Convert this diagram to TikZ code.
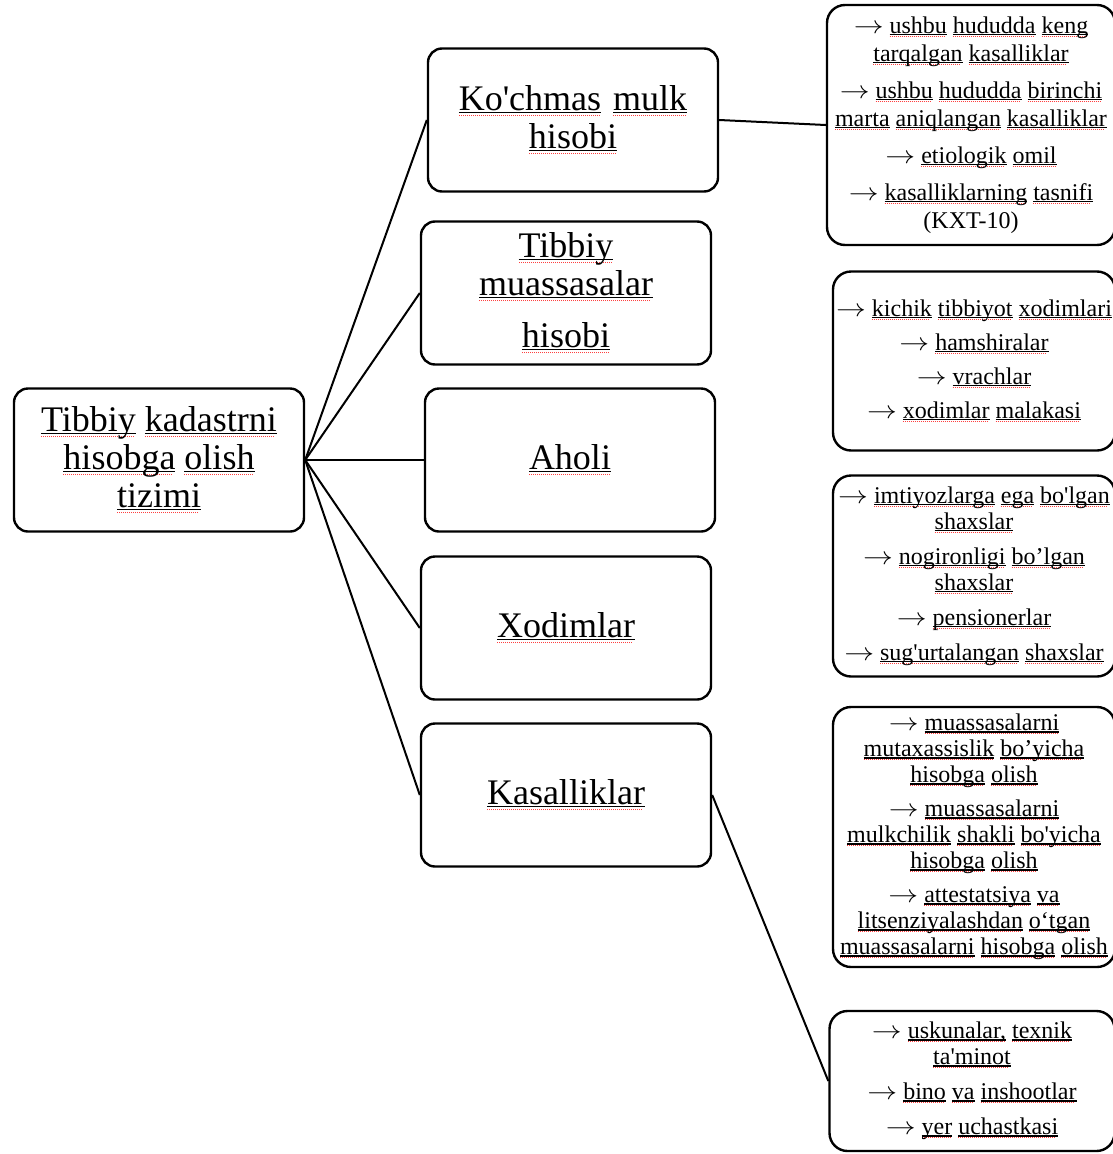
\documentclass[tikz,border=0pt]{standalone}
\usepackage{fontspec}
\setmainfont{Liberation Serif}
\usepackage{xcolor}
\colorlet{colorSpell}{red!75}
\usepackage{tikz}
\usetikzlibrary{positioning}
\newcommand{\bigtext}{\fontsize{36pt}{38pt}\selectfont}
\newcommand{\listtext}{\fontsize{24pt}{26pt}\selectfont}
\newcommand{\spellline}[1]{\setbox0\hbox{#1}\rlap{\rule[-0.075em]{\wd0}{0.045em}}\rlap{\color{colorSpell}\leaders\hbox to 2pt{\rule[-0.15em]{1pt}{0.04em}\hss}\hskip\wd0}\box0}
\newcommand{\itm}{\scalebox{1.2}[1]{\(\rightarrow\)}}
\def\uw#1{\uwnext#1 \uwstop}
\def\uwnext#1 #2\uwstop{\spellline{#1}\if\relax\detokenize{#2}\relax\else\ \uwnext#2\uwstop\fi}
\tikzset{
  topicbox/.style={draw, rounded corners=14pt, line width=2.4pt, minimum width=290pt, minimum height=143pt, align=center, font=\bigtext},
  listbox/.style={draw, rounded corners=18pt, line width=2.4pt, inner sep=0pt, align=center, font=\listtext},
  link/.style={line width=2pt}
}

\begin{document}
\begin{tikzpicture}[x=1pt, y=-1pt]
\useasboundingbox (0,0) rectangle (1113,1154);
\node[topicbox] (kadastr) at (159,460) {\uw{Tibbiy kadastrni}\\ \uw{hisobga olish}\\ \uw{tizimi}};
\node[topicbox, right of=kadastr, node distance=411pt] (aholi) {\uw{Aholi}};
\node[topicbox, above of=aholi, node distance=340pt, xshift=3pt] (mulk) {\uw{Ko\textquotesingle chmas}\hspace{12pt}\uw{mulk}\\ \uw{hisobi}};
\node[topicbox, above of=aholi, node distance=167pt, xshift=-4pt] (muassasa) {\uw{Tibbiy}\\ \uw{muassasalar}\\[14pt] \uw{hisobi}};
\node[topicbox, below of=aholi, node distance=168pt, xshift=-4pt] (xodim) {\uw{Xodimlar}};
\node[topicbox, below of=aholi, node distance=335pt, xshift=-4pt] (kasal) {\uw{Kasalliklar}};

\node[listbox, minimum width=288pt, minimum height=240pt, font=\fontsize{24pt}{28pt}\selectfont] (kasallist) at (971,125) {\itm\ \uw{ushbu hududda keng}\\ \uw{tarqalgan kasalliklar}\\[9pt] \itm\ \uw{ushbu hududda birinchi}\\ \uw{marta aniqlangan kasalliklar}\\[9pt] \itm\ \uw{etiologik omil}\\[9pt] \itm\ \uw{kasalliklarning tasnifi}\\ (KXT-10)};
\node[listbox, minimum width=282pt, minimum height=179pt] (xodimlist) at (974,361) {\itm\ \uw{kichik tibbiyot xodimlari}\\[8pt] \itm\ \uw{hamshiralar}\\[8pt] \itm\ \uw{vrachlar}\\[8pt] \itm\ \uw{xodimlar malakasi}};
\node[listbox, minimum width=282pt, minimum height=201pt] (aholilist) at (974,576) {\itm\ \uw{imtiyozlarga ega bo\textquotesingle lgan}\\ \uw{shaxslar}\\[9pt] \itm\ \uw{nogironligi bo’lgan}\\ \uw{shaxslar}\\[9pt] \itm\ \uw{pensionerlar}\\[9pt] \itm\ \uw{sug\textquotesingle urtalangan shaxslar}};
\node[listbox, minimum width=282pt, minimum height=260pt] (muassalist) at (974,837) {\itm\ \uw{muassasalarni}\\ \uw{mutaxassislik bo’yicha}\\ \uw{hisobga olish}\\[8pt] \itm\ \uw{muassasalarni}\\ \uw{mulkchilik shakli bo\textquotesingle yicha}\\ \uw{hisobga olish}\\[8pt] \itm\ \uw{attestatsiya va}\\ \uw{litsenziyalashdan o‘tgan}\\ \uw{muassasalarni hisobga olish}};
\node[listbox, minimum width=285pt, minimum height=140pt] (mulklist) at (972,1081) {\itm\ \uw{uskunalar, texnik}\\ \uw{ta\textquotesingle minot}\\[9pt] \itm\ \uw{bino va inshootlar}\\[9pt] \itm\ \uw{yer uchastkasi}};

\draw[link] (kadastr.east) -- (mulk.west);
\draw[link] (kadastr.east) -- (muassasa.west);
\draw[link] (kadastr.east) -- (aholi.west);
\draw[link] (kadastr.east) -- (xodim.west);
\draw[link] (kadastr.east) -- (kasal.west);
\draw[link] (mulk.east) -- (kasallist.west);
\draw[link] (kasal.east) -- (mulklist.west);
\end{tikzpicture}
\end{document}
